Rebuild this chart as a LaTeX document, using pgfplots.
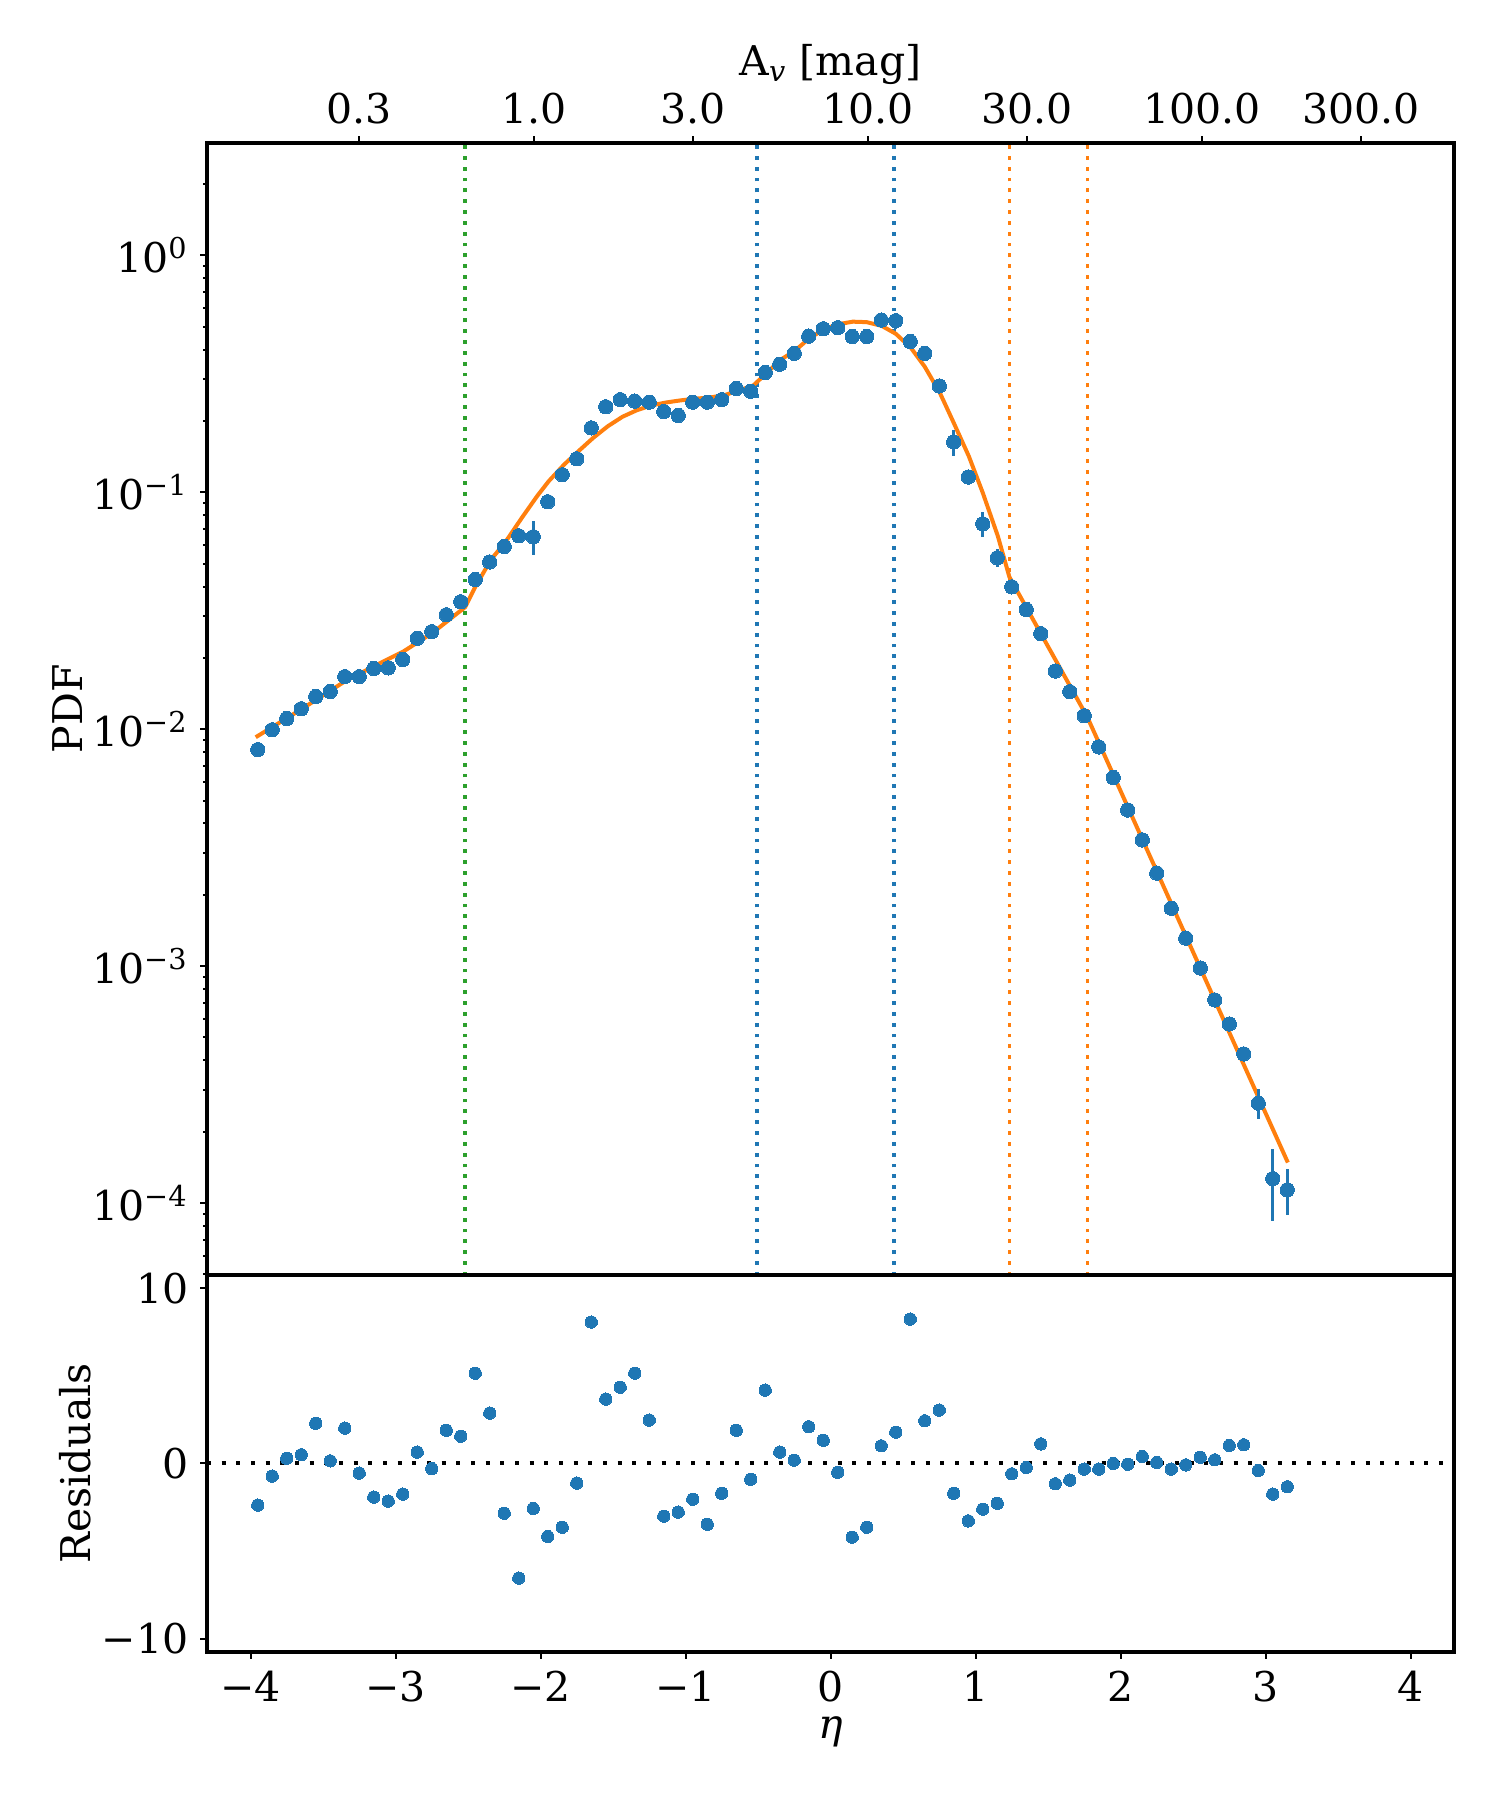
\documentclass[border=0pt]{standalone}
\usepackage{fontspec}
\setmainfont{DejaVu Serif}
\usepackage{pgfplots}
\usepackage{pgfplotstable}
\pgfplotsset{compat=1.18}
\definecolor{mblue}{HTML}{1F77B4}
\definecolor{morange}{HTML}{FF7F0E}
\definecolor{mgreen}{HTML}{2CA02C}

\pgfplotstableread{
x y e
-3.95 0.0082 0.0003
-3.85 0.00995 0.0003
-3.75 0.0111 0.0003
-3.65 0.0122 0.0003
-3.55 0.01374 0.0003
-3.45 0.01442 0.0003
-3.35 0.01667 0.0004
-3.25 0.01667 0.0004
-3.15 0.01803 0.0004
-3.05 0.01815 0.0004
-2.95 0.0197 0.0004
-2.85 0.0242 0.0005
-2.75 0.0258 0.0005
-2.65 0.0304 0.0006
-2.55 0.0345 0.0007
-2.45 0.0428 0.0009
-2.35 0.0508 0.0012
-2.25 0.0590 0.0013
-2.15 0.0655 0.0014
-2.05 0.0649 0.0107
-1.95 0.0912 0.002
-1.85 0.1186 0.0025
-1.75 0.1385 0.003
-1.65 0.187 0.004
-1.55 0.2296 0.004
-1.45 0.246 0.004
-1.35 0.2425 0.004
-1.25 0.240 0.004
-1.15 0.219 0.004
-1.05 0.211 0.004
-0.95 0.240 0.005
-0.85 0.240 0.005
-0.75 0.246 0.005
-0.65 0.274 0.006
-0.55 0.267 0.008
-0.45 0.32 0.007
-0.35 0.347 0.007
-0.25 0.386 0.008
-0.15 0.456 0.009
-0.05 0.490 0.010
0.05 0.495 0.010
0.15 0.454 0.010
0.25 0.454 0.010
0.35 0.533 0.015
0.45 0.530 0.04
0.55 0.433 0.012
0.65 0.386 0.010
0.75 0.281 0.008
0.85 0.163 0.021
0.95 0.116 0.004
1.05 0.0736 0.009
1.15 0.0529 0.0046
1.25 0.0399 0.0012
1.35 0.0320 0.0008
1.45 0.0253 0.0006
1.55 0.0176 0.0005
1.65 0.0144 0.0004
1.75 0.0114 0.0003
1.85 0.00842 0.0002
1.95 0.00625 0.00015
2.05 0.00456 0.0001
2.15 0.00341 0.00008
2.25 0.00247 0.00006
2.35 0.001755 0.00005
2.45 0.001313 0.00004
2.55 0.000982 0.00003
2.65 0.000720 0.00003
2.75 0.000570 0.00003
2.85 0.000426 0.000025
2.95 0.000264 0.000038
3.05 0.0001268 0.000043
3.15 0.0001137 0.000025
}\pdfdata

\pgfplotstableread{
x y
-3.964 0.00925
-3.652 0.01211
-3.349 0.01592
-3.148 0.01845
-2.943 0.02133
-2.744 0.02553
-2.52 0.03273
-2.447 0.04018
-2.341 0.05200
-2.243 0.06152
-2.129 0.07798
-2.023 0.09638
-1.943 0.1114
-1.837 0.1309
-1.737 0.1493
-1.636 0.1698
-1.535 0.1901
-1.434 0.2084
-1.333 0.2223
-1.232 0.2328
-1.134 0.2393
-1.033 0.2443
-0.932 0.2483
-0.832 0.2512
-0.731 0.2570
-0.630 0.2692
-0.532 0.2825
-0.436 0.3206
-0.340 0.3639
-0.248 0.3945
-0.150 0.4446
-0.046 0.4870
0.050 0.5117
0.154 0.5248
0.250 0.5224
0.354 0.5035
0.450 0.4667
0.554 0.4074
0.650 0.3388
0.754 0.2630
0.850 0.1963
0.954 0.1419
1.050 0.09954
1.154 0.06531
1.234 0.04385
1.772 0.01122
3.154 0.0001483
}\fitdata

\pgfplotstableread{
x r
-3.95 -2.38
-3.85 -0.72
-3.75 0.30
-3.65 0.50
-3.55 2.30
-3.45 0.15
-3.35 2.02
-3.25 -0.55
-3.15 -1.92
-3.05 -2.15
-2.95 -1.75
-2.85 0.65
-2.75 -0.29
-2.65 1.90
-2.55 1.56
-2.45 5.16
-2.35 2.88
-2.25 -2.84
-2.15 -6.55
-2.05 -2.57
-1.95 -4.17
-1.85 -3.64
-1.75 -1.12
-1.65 8.08
-1.55 3.68
-1.45 4.36
-1.35 5.16
-1.25 2.48
-1.15 -3.01
-1.05 -2.78
-0.95 -2.04
-0.85 -3.47
-0.75 -1.70
-0.65 1.90
-0.55 -0.90
-0.45 4.19
-0.35 0.65
-0.25 0.19
-0.15 2.10
-0.05 1.33
0.05 -0.50
0.15 -4.21
0.25 -3.64
0.35 1.01
0.45 1.79
0.55 8.25
0.65 2.44
0.75 3.05
0.85 -1.70
0.95 -3.28
1.05 -2.61
1.15 -2.27
1.25 -0.59
1.35 -0.23
1.45 1.12
1.55 -1.16
1.65 -0.95
1.75 -0.32
1.85 -0.32
1.95 0.00
2.05 -0.04
2.15 0.40
2.25 0.06
2.35 -0.32
2.45 -0.08
2.55 0.36
2.65 0.21
2.75 1.03
2.85 1.07
2.95 -0.40
3.05 -1.75
3.15 -1.33
}\resdata

\pgfplotsset{
  mybase/.style={
    scale only axis,
    width=374.1pt,
    xmin=-4.3, xmax=4.3,
    axis line style={line width=1.2pt},
    tick align=outside,
    major tick length=2.1pt,
    minor tick length=1.2pt,
    tick style={line width=0.6pt, black},
    tick label style={font=\fontsize{12.3}{14.8}\selectfont},
    label style={font=\fontsize{12.3}{14.8}\selectfont},
    ytick pos=left,
    clip=true,
  },
  vline/.style={line width=1.15pt, dash pattern=on 1.15pt off 2.1pt},
}

\begin{document}
\begin{tikzpicture}
\useasboundingbox (0,0) rectangle (450pt,540pt);

% upper panel
\begin{axis}[mybase,
  at={(62.1pt,157.5pt)}, anchor=south west,
  height=339.6pt,
  ymode=log, ymin=4.97e-5, ymax=2.98,
  ytick={1e-4,1e-3,1e-2,1e-1,1},
  yticklabels={10\textsuperscript{−4},10\textsuperscript{−3},10\textsuperscript{−2},10\textsuperscript{−1},10\textsuperscript{0}},
  minor ytick={5e-5,6e-5,7e-5,8e-5,9e-5,2e-4,3e-4,4e-4,5e-4,6e-4,7e-4,8e-4,9e-4,2e-3,3e-3,4e-3,5e-3,6e-3,7e-3,8e-3,9e-3,2e-2,3e-2,4e-2,5e-2,6e-2,7e-2,8e-2,9e-2,0.2,0.3,0.4,0.5,0.6,0.7,0.8,0.9,2},
  xtick={-3.249,-2.045,-0.946,0.258,1.356,2.560,3.659},
  xticklabels={0.3,1.0,3.0,10.0,30.0,100.0,300.0},
  minor xtick={},
  xtick pos=right, xticklabel pos=right,
  xlabel={A\textsubscript{\textit{v}} [mag]},
  xlabel style={at={(axis description cs:0.5,1.069)}, anchor=center},
  ylabel={PDF},
  ylabel style={at={(axis description cs:-0.112,0.5)}, anchor=center},
]
\addplot[mgreen, vline] coordinates {(-2.52,4e-5) (-2.52,4)};
\addplot[mblue, vline] coordinates {(-0.505,4e-5) (-0.505,4)};
\addplot[mblue, vline] coordinates {(0.44,4e-5) (0.44,4)};
\addplot[morange, vline] coordinates {(1.234,4e-5) (1.234,4)};
\addplot[morange, vline] coordinates {(1.772,4e-5) (1.772,4)};
\addplot[morange, line width=1.2pt, no marks] table[x=x,y=y] {\fitdata};
\addplot[mblue, only marks, mark=*, mark size=2.15pt, mark options={mblue, fill=mblue, line width=0pt},
  error bars/.cd, y dir=both, y explicit, error mark=none,
  error bar style={line width=0.9pt, mblue}]
  table[x=x, y=y, y error=e] {\pdfdata};
\end{axis}

% lower panel
\begin{axis}[mybase,
  at={(62.1pt,44.4pt)}, anchor=south west,
  height=113.1pt,
  ymin=-10.77, ymax=10.77,
  ytick={-10,0,10},
  yticklabels={−10,0,10},
  xtick={-4,-3,-2,-1,0,1,2,3,4},
  xticklabels={−4,−3,−2,−1,0,1,2,3,4},
  xtick pos=left,
  xlabel={\textit{η}},
  xlabel style={at={(axis description cs:0.5,-0.212)}, anchor=center},
  ylabel={Residuals},
  ylabel style={at={(axis description cs:-0.106,0.5)}, anchor=center},
]
\addplot[black, line width=1.2pt, dash pattern=on 1.2pt off 3.2pt] coordinates {(-4.3,0) (4.3,0)};
\addplot[mblue, only marks, mark=*, mark size=1.85pt, mark options={mblue, fill=mblue, line width=0pt}]
  table[x=x, y=r] {\resdata};
\end{axis}
\end{tikzpicture}
\end{document}
